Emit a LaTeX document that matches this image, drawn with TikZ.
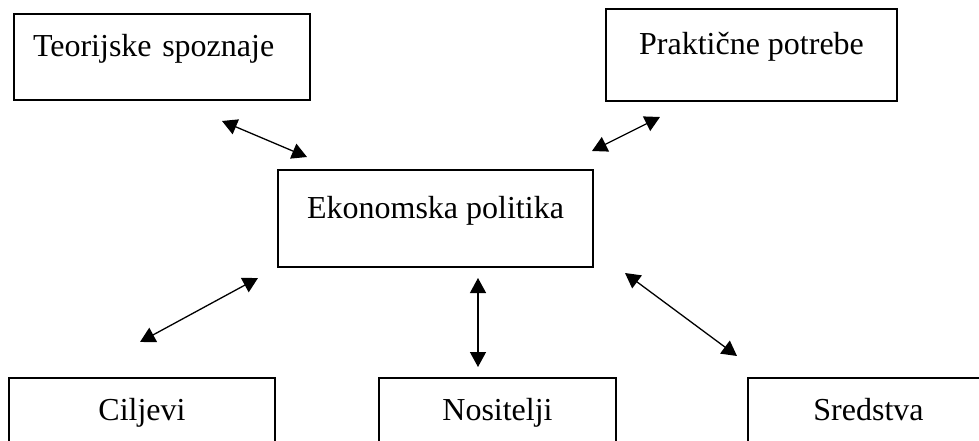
\documentclass[tikz,border=0pt]{standalone}
\usepackage{fontspec}
\setmainfont{Liberation Serif}
\usetikzlibrary{positioning,arrows.meta}

\begin{document}
\begin{tikzpicture}
[x=1pt,y=-1pt,
 every node/.style={font=\fontsize{32pt}{38pt}\selectfont},
 box/.style={rectangle,draw=black,line width=2.4pt,inner sep=0pt,outer sep=0pt,text height=11pt,text depth=11pt},
 link/.style={line width=1.3pt,{Triangle[length=15pt,width=16pt]}-{Triangle[length=15pt,width=16pt]}}]
\useasboundingbox (0,0) rectangle (979,441);
\clip (0,0) rectangle (979,441);

\node[box,minimum width=315pt,minimum height=97pt] (ep) at (435.5,218.5) {Ekonomska politika};
\node[box,minimum height=86pt,text width=258pt,inner xsep=19pt,align=left] (tz) [on grid,above left=161.5pt and 273.5pt of ep] {Teorijske spoznaje};
\node[box,minimum width=291pt,minimum height=92pt] (pp) [on grid,above right=163.5pt and 316pt of ep] {Praktične potrebe};
\node[box,minimum width=266pt,minimum height=84pt] (cilj) [on grid,below left=201.5pt and 293.5pt of ep] {Ciljevi};
\node[box,minimum width=237pt,minimum height=84pt] (nos) [on grid,below right=201.5pt and 62pt of ep] {Nositelji};
\node[box,minimum width=241pt,minimum height=84pt] (sred) [on grid,below right=201.5pt and 433pt of ep] {Sredstva};

\coordinate (tzA) at (222,121);
\coordinate (tzB) at (307,157);
\coordinate (ppA) at (660,117);
\coordinate (ppB) at (592,151);
\coordinate (ciA) at (140,342);
\coordinate (ciB) at (258,278);
\coordinate (noA) at (478,278);
\coordinate (noB) at (478,367);
\coordinate (srA) at (625,273);
\coordinate (srB) at (737,356);

\path[link] (tzA) edge (tzB);
\path[link] (ppA) edge (ppB);
\path[link] (ciA) edge (ciB);
\path[link] (noA) edge (noB);
\path[link] (srA) edge (srB);
\end{tikzpicture}
\end{document}
